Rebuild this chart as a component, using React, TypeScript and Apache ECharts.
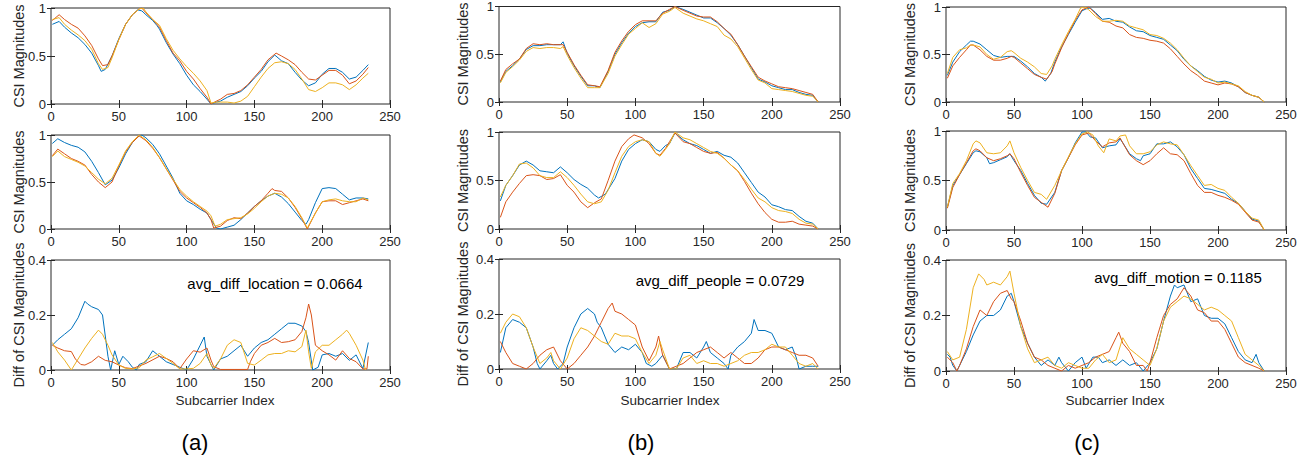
import React, { useEffect, useRef } from "react";
import * as echarts from "echarts";

// ---------- DATA: [subcarrier index, value] ----------
const a1Blue = [[1,.83],[6,.86],[10,.8],[15,.74],[20,.69],[25,.62],[30,.53],[35,.4],[37,.34],[40,.36],[45,.5],[50,.68],[55,.83],[60,.93],[64,.98],[67,.97],[70,.93],[75,.87],[78,.82],[80,.78],[85,.64],[90,.52],[95,.42],[100,.3],[105,.2],[110,.13],[115,.05],[118,0],[122,.02],[125,.03],[130,.07],[135,.1],[140,.13],[145,.19],[150,.27],[155,.34],[160,.44],[165,.51],[170,.45],[175,.42],[180,.33],[185,.25],[190,.19],[195,.22],[200,.31],[205,.37],[210,.37],[215,.33],[220,.26],[225,.28],[230,.35],[234,.41]];
const a1Red = [[1,.87],[6,.93],[10,.88],[15,.83],[20,.79],[25,.71],[30,.61],[35,.47],[38,.4],[42,.41],[45,.5],[50,.67],[55,.83],[60,.93],[65,.99],[67,1],[70,.95],[75,.88],[80,.8],[85,.66],[90,.53],[95,.45],[100,.34],[105,.26],[110,.16],[115,.07],[118,0],[122,.03],[125,.05],[130,.1],[135,.11],[140,.14],[145,.2],[150,.28],[155,.36],[160,.46],[166,.53],[170,.5],[175,.46],[180,.41],[185,.33],[190,.26],[195,.25],[200,.3],[205,.35],[210,.35],[215,.3],[220,.21],[225,.24],[230,.31],[234,.38]];
const a1Yellow = [[1,.88],[6,.9],[10,.83],[15,.77],[20,.72],[25,.66],[30,.57],[35,.42],[38,.36],[42,.38],[45,.48],[50,.67],[55,.83],[60,.93],[65,.99],[68,1],[70,.96],[75,.88],[80,.82],[85,.68],[90,.56],[95,.47],[100,.39],[105,.32],[110,.24],[115,.14],[118,.01],[122,.02],[125,.02],[130,.02],[135,.01],[140,.03],[145,.08],[150,.18],[155,.28],[160,.37],[165,.43],[170,.44],[175,.42],[180,.36],[185,.26],[190,.15],[195,.13],[200,.17],[205,.22],[210,.22],[215,.2],[220,.15],[225,.2],[230,.27],[234,.32]];

const a2Blue = [[1,.91],[5,.96],[10,.92],[15,.89],[20,.87],[25,.82],[30,.72],[35,.6],[40,.47],[45,.52],[50,.65],[55,.8],[60,.92],[65,.99],[67,1],[70,.97],[75,.9],[80,.8],[85,.67],[90,.54],[95,.38],[100,.3],[105,.26],[110,.21],[115,.17],[118,.1],[122,.01],[125,0],[130,.02],[135,.04],[140,.1],[145,.17],[150,.24],[155,.3],[160,.35],[165,.38],[170,.34],[175,.27],[180,.18],[185,.09],[188,.05],[190,.1],[195,.28],[200,.43],[205,.44],[210,.43],[215,.37],[220,.31],[225,.33],[230,.33],[234,.32]];
const a2Red = [[1,.78],[5,.85],[10,.8],[15,.75],[20,.72],[25,.68],[30,.58],[35,.5],[40,.44],[45,.5],[50,.67],[55,.82],[60,.92],[65,.99],[70,.94],[75,.86],[80,.76],[85,.64],[90,.52],[95,.4],[100,.33],[105,.28],[110,.23],[115,.17],[118,.1],[120,.01],[125,.03],[130,.09],[135,.12],[140,.11],[145,.17],[150,.24],[155,.3],[160,.38],[163,.43],[165,.41],[170,.4],[175,.33],[180,.23],[185,.11],[189,0],[195,.17],[200,.29],[205,.3],[210,.3],[215,.26],[220,.28],[225,.3],[230,.32],[234,.3]];
const a2Yellow = [[1,.77],[5,.83],[10,.77],[15,.74],[20,.71],[25,.67],[30,.6],[35,.53],[40,.48],[45,.54],[50,.68],[55,.83],[60,.93],[65,1],[70,.95],[75,.87],[80,.76],[85,.64],[90,.53],[95,.42],[100,.35],[105,.29],[110,.24],[115,.19],[118,.14],[121,.03],[125,.05],[130,.1],[135,.11],[140,.12],[145,.16],[150,.22],[155,.29],[160,.35],[165,.38],[170,.37],[175,.33],[180,.24],[185,.12],[189,.01],[195,.17],[200,.29],[205,.31],[210,.32],[215,.3],[220,.29],[225,.29],[230,.33],[234,.31]];

const a3Blue = [[1,.09],[5,.11],[10,.13],[15,.15],[20,.19],[25,.25],[27,.24],[30,.23],[35,.22],[38,.2],[42,.05],[44,0],[47,.07],[50,.02],[53,.05],[57,.03],[60,.01],[63,0],[65,.02],[70,.03],[75,.07],[80,.05],[85,.03],[90,.02],[95,.01],[100,0],[105,.04],[110,.09],[113,.12],[115,.05],[118,.02],[120,0],[125,.04],[130,.05],[135,.07],[140,.09],[145,.05],[150,.08],[155,.1],[160,.11],[165,.13],[170,.15],[175,.17],[180,.17],[185,.16],[188,.14],[190,.1],[193,0],[197,.01],[200,.055],[205,.06],[210,.05],[215,.06],[220,.035],[225,.055],[230,.005],[234,.1]];
const a3Red = [[1,.09],[5,.08],[10,.07],[15,.067],[18,.04],[22,.02],[25,.018],[30,.03],[35,.05],[40,.035],[45,.03],[50,.018],[55,.008],[60,.005],[70,.024],[80,.05],[85,.042],[90,.03],[95,.005],[100,.04],[105,.07],[110,.065],[115,.08],[118,.036],[120,.012],[125,.002],[135,.002],[145,.002],[147,.03],[150,.06],[155,.09],[160,.1],[165,.115],[170,.1],[175,.103],[180,.11],[185,.14],[188,.19],[190,.24],[192,.2],[195,.09],[200,.07],[205,.055],[210,.036],[215,.07],[220,.042],[225,.03],[230,.004],[233,.004],[234,.05]];
const a3Yellow = [[1,.1],[5,.066],[10,.036],[15,0],[20,.04],[25,.08],[30,.115],[35,.145],[38,.13],[42,.09],[45,.055],[50,.018],[55,.006],[60,.004],[65,.008],[70,.036],[75,.048],[80,.06],[85,.042],[90,.024],[95,.004],[100,.004],[105,.006],[110,.024],[115,.06],[118,.018],[120,.006],[125,.04],[130,.09],[135,.11],[140,.1],[145,.024],[150,.018],[155,.036],[160,.055],[165,.06],[170,.06],[175,.07],[180,.066],[185,.085],[188,.145],[190,.066],[192,.006],[195,.066],[200,.09],[205,.09],[210,.11],[215,.13],[218,.145],[220,.133],[225,.09],[230,.036],[232,0]];

const b1Blue = [[1,.21],[5,.32],[10,.38],[15,.45],[20,.55],[25,.59],[30,.59],[35,.6],[40,.6],[45,.6],[47,.63],[50,.51],[55,.38],[60,.27],[65,.17],[70,.17],[74,.15],[80,.32],[85,.5],[90,.62],[95,.72],[100,.79],[105,.83],[110,.84],[115,.84],[120,.94],[125,.96],[129,1],[135,.97],[140,.94],[145,.91],[150,.88],[155,.88],[160,.83],[165,.77],[170,.7],[175,.6],[180,.48],[185,.36],[190,.24],[195,.21],[200,.17],[205,.15],[210,.13],[215,.13],[220,.1],[225,.08],[230,.07],[234,0]];
const b1Red = [[1,.22],[5,.34],[10,.4],[15,.45],[20,.56],[25,.61],[30,.6],[35,.61],[40,.6],[45,.6],[47,.6],[50,.52],[55,.39],[60,.28],[65,.18],[70,.17],[74,.16],[80,.33],[85,.52],[90,.64],[95,.74],[100,.81],[105,.85],[110,.85],[115,.85],[120,.93],[125,.97],[129,1],[135,.96],[140,.93],[145,.9],[150,.89],[155,.89],[160,.84],[165,.77],[170,.71],[175,.6],[180,.48],[185,.37],[190,.26],[195,.22],[200,.19],[205,.16],[210,.15],[215,.14],[220,.12],[225,.1],[230,.08],[234,0]];
const b1Yellow = [[1,.2],[5,.31],[10,.37],[15,.44],[20,.53],[25,.57],[30,.56],[35,.57],[40,.57],[45,.56],[47,.58],[50,.49],[55,.36],[60,.25],[65,.15],[70,.15],[74,.15],[80,.3],[85,.48],[90,.6],[95,.71],[100,.77],[105,.83],[110,.78],[115,.82],[120,.92],[125,.95],[129,.99],[135,.93],[140,.9],[145,.87],[150,.85],[155,.82],[160,.79],[165,.7],[170,.66],[175,.58],[180,.46],[185,.34],[190,.23],[195,.2],[200,.14],[205,.13],[210,.12],[215,.11],[220,.09],[225,.07],[230,.06],[234,0]];

const b2Blue = [[1,.29],[5,.45],[10,.55],[15,.66],[20,.7],[25,.66],[30,.6],[35,.59],[40,.58],[45,.64],[50,.58],[55,.51],[60,.46],[65,.42],[70,.35],[73,.32],[78,.36],[85,.52],[90,.7],[95,.82],[100,.88],[105,.92],[110,.9],[115,.82],[118,.8],[122,.86],[125,.88],[129,.99],[135,.92],[140,.88],[145,.86],[150,.82],[155,.78],[160,.8],[165,.76],[170,.74],[175,.68],[180,.58],[185,.48],[190,.38],[195,.33],[200,.25],[205,.23],[210,.2],[215,.19],[220,.13],[225,.08],[230,.06],[234,0]];
const b2Red = [[1,.12],[5,.28],[10,.38],[15,.47],[20,.55],[25,.56],[30,.55],[35,.51],[40,.52],[45,.56],[50,.45],[55,.38],[60,.28],[65,.22],[70,.27],[75,.31],[80,.5],[85,.7],[90,.85],[95,.93],[99,.97],[105,.94],[110,.88],[115,.78],[118,.76],[122,.83],[125,.9],[129,.99],[135,.9],[140,.88],[145,.84],[150,.8],[155,.78],[160,.79],[165,.73],[170,.66],[175,.6],[180,.49],[185,.37],[190,.26],[195,.17],[200,.1],[205,.07],[210,.07],[215,.08],[220,.05],[225,.04],[230,.03],[234,0]];
const b2Yellow = [[1,.33],[5,.45],[10,.55],[15,.67],[20,.68],[25,.63],[30,.55],[35,.53],[40,.53],[45,.59],[50,.53],[55,.45],[60,.36],[65,.28],[70,.26],[75,.28],[80,.4],[85,.58],[90,.75],[95,.85],[100,.9],[105,.92],[110,.9],[115,.78],[118,.75],[122,.82],[125,.88],[129,1],[135,.94],[140,.92],[145,.88],[150,.84],[155,.8],[160,.78],[165,.73],[170,.66],[175,.6],[180,.51],[185,.41],[190,.32],[195,.28],[200,.22],[205,.19],[210,.18],[215,.16],[220,.1],[225,.06],[230,.05],[234,0]];

const b3Blue = [[1,.06],[5,.15],[10,.18],[15,.17],[20,.15],[25,.08],[28,.02],[30,0],[35,.03],[38,.05],[40,.02],[43,0],[47,.02],[50,.08],[55,.15],[60,.2],[65,.22],[70,.2],[72,.17],[75,.15],[80,.09],[85,.06],[90,.08],[95,.07],[100,.09],[105,.06],[108,.02],[112,.01],[115,.02],[120,.05],[125,0],[130,0],[135,.06],[140,.06],[145,.04],[150,.08],[152,.1],[155,.06],[160,.04],[165,.02],[168,0],[170,.05],[175,.08],[180,.1],[185,.13],[187,.18],[190,.14],[195,.14],[200,.13],[205,.08],[210,.07],[215,.08],[218,.04],[220,0],[225,.01],[230,.01],[234,.01]];
const b3Red = [[1,.1],[5,.06],[10,.02],[15,.01],[20,0],[25,.02],[30,.05],[35,.07],[40,.08],[45,.03],[50,0],[55,.02],[60,.05],[65,.08],[70,.12],[75,.17],[80,.22],[83,.24],[85,.21],[90,.2],[95,.18],[100,.16],[105,.08],[110,.03],[115,.08],[117,.12],[120,.05],[125,0],[130,.01],[135,.02],[140,.04],[145,.06],[150,.07],[155,.08],[160,.06],[165,.04],[170,.06],[175,.04],[180,.02],[185,.02],[190,.04],[195,.07],[200,.08],[205,.08],[210,.07],[215,.06],[220,.05],[225,.05],[230,.04],[234,.01]];
const b3Yellow = [[1,.13],[5,.17],[10,.2],[15,.19],[20,.15],[25,.08],[30,.02],[35,.04],[38,.06],[40,.03],[45,0],[50,.04],[55,.11],[60,.15],[65,.14],[70,.12],[75,.1],[80,.09],[85,.13],[90,.12],[95,.12],[100,.11],[105,.06],[110,.02],[115,.05],[118,.1],[120,.07],[125,0],[130,0],[135,.04],[140,.05],[145,.02],[150,.03],[155,.02],[160,.02],[165,.01],[170,.02],[175,.03],[180,.05],[185,.06],[190,.06],[195,.07],[200,.09],[205,.08],[210,.08],[215,.05],[220,.02],[225,.01],[230,.02],[234,0]];

const c1Blue = [[1,.28],[5,.42],[10,.53],[15,.6],[18,.64],[20,.64],[25,.61],[30,.55],[35,.49],[40,.47],[45,.48],[50,.48],[55,.43],[60,.37],[65,.3],[70,.26],[73,.22],[77,.3],[80,.42],[85,.58],[90,.71],[95,.84],[100,.96],[103,.98],[106,.99],[110,.94],[115,.87],[120,.88],[125,.85],[130,.84],[135,.79],[140,.75],[145,.74],[150,.7],[155,.68],[160,.66],[165,.6],[170,.54],[175,.45],[180,.38],[185,.33],[190,.27],[195,.23],[200,.21],[205,.22],[210,.2],[215,.16],[220,.1],[225,.07],[230,.05],[234,0]];
const c1Red = [[1,.25],[5,.38],[10,.47],[15,.55],[18,.6],[20,.6],[25,.55],[30,.48],[35,.44],[40,.44],[45,.46],[48,.48],[50,.47],[55,.41],[60,.35],[65,.29],[70,.26],[74,.24],[78,.32],[80,.4],[85,.57],[90,.72],[95,.86],[100,.97],[105,1],[110,.93],[115,.85],[120,.84],[125,.8],[130,.78],[135,.71],[140,.68],[145,.67],[150,.65],[155,.64],[160,.62],[165,.56],[170,.48],[175,.4],[180,.33],[185,.28],[190,.22],[195,.2],[200,.18],[205,.2],[210,.19],[215,.16],[220,.1],[225,.07],[230,.05],[234,0]];
const c1Yellow = [[1,.3],[5,.47],[10,.55],[15,.57],[18,.6],[20,.6],[25,.58],[30,.5],[35,.45],[40,.47],[45,.53],[48,.54],[50,.52],[55,.46],[60,.42],[65,.37],[70,.3],[74,.29],[78,.38],[80,.45],[85,.6],[90,.74],[95,.87],[99,.99],[102,1],[105,.97],[110,.9],[115,.85],[120,.85],[125,.86],[130,.85],[135,.8],[140,.78],[145,.76],[150,.71],[155,.7],[160,.67],[165,.62],[170,.55],[175,.46],[180,.38],[185,.32],[190,.26],[195,.24],[200,.2],[205,.21],[210,.19],[215,.17],[220,.11],[225,.07],[230,.05],[234,0]];

const c2Blue = [[1,.23],[5,.45],[10,.56],[15,.67],[20,.78],[22,.8],[25,.79],[30,.73],[32,.67],[35,.68],[40,.71],[45,.74],[47,.77],[50,.7],[55,.6],[60,.47],[65,.35],[70,.27],[74,.26],[80,.38],[85,.6],[90,.73],[95,.88],[100,.99],[103,.99],[106,.94],[110,.93],[115,.83],[120,.85],[125,.86],[128,.92],[130,.88],[135,.77],[140,.72],[143,.7],[145,.75],[150,.77],[155,.87],[160,.87],[165,.89],[170,.84],[175,.76],[180,.62],[185,.52],[190,.42],[195,.41],[200,.39],[205,.37],[210,.31],[215,.27],[220,.19],[225,.11],[230,.09],[234,0]];
const c2Red = [[1,.22],[5,.43],[10,.56],[15,.68],[20,.8],[22,.82],[25,.8],[30,.73],[35,.7],[40,.72],[45,.75],[47,.77],[50,.72],[55,.58],[60,.45],[65,.33],[70,.28],[75,.23],[80,.37],[85,.6],[90,.73],[95,.86],[100,.96],[105,.98],[110,.9],[115,.84],[120,.88],[125,.89],[128,.93],[130,.88],[135,.76],[140,.7],[145,.66],[150,.7],[155,.77],[160,.83],[165,.77],[170,.76],[175,.7],[180,.57],[185,.45],[190,.38],[195,.38],[200,.35],[205,.33],[210,.3],[215,.26],[220,.18],[225,.1],[230,.08],[234,0]];
const c2Yellow = [[1,.23],[5,.47],[10,.57],[15,.7],[20,.87],[22,.9],[25,.88],[30,.78],[35,.77],[40,.78],[45,.85],[47,.9],[50,.78],[55,.63],[60,.5],[65,.38],[70,.36],[74,.31],[80,.45],[85,.6],[90,.74],[95,.87],[100,.97],[104,.99],[108,.96],[112,.85],[116,.78],[120,.92],[125,.9],[128,.95],[132,.96],[135,.85],[140,.77],[145,.77],[150,.79],[155,.86],[160,.89],[165,.87],[170,.86],[175,.76],[180,.65],[185,.55],[190,.45],[195,.46],[200,.42],[205,.4],[210,.33],[215,.27],[220,.19],[225,.12],[230,.1],[234,0]];

const c3Blue = [[1,.06],[3,.05],[5,.02],[8,0],[10,.02],[15,.07],[20,.13],[25,.18],[30,.2],[35,.2],[40,.22],[45,.27],[48,.28],[50,.25],[55,.16],[60,.1],[65,.05],[70,.02],[75,.04],[80,.02],[83,.05],[85,.03],[90,0],[95,.03],[100,.05],[103,.01],[108,.05],[112,.05],[115,.03],[120,.04],[125,.02],[130,.04],[135,.02],[140,.03],[145,0],[150,.03],[155,.08],[160,.18],[165,.27],[168,.31],[170,.3],[175,.31],[180,.25],[185,.26],[190,.2],[195,.19],[200,.19],[205,.17],[210,.12],[215,.07],[220,.04],[225,.03],[228,.06],[230,.03],[234,0]];
const c3Red = [[1,.05],[5,.03],[8,0],[10,.02],[15,.08],[20,.16],[25,.22],[30,.2],[35,.25],[40,.28],[45,.29],[48,.26],[50,.25],[55,.18],[60,.1],[65,.05],[70,.04],[75,.02],[80,.01],[85,0],[90,.02],[95,.01],[100,.02],[105,.03],[110,.05],[115,.06],[120,.07],[125,.12],[127,.14],[130,.1],[135,.07],[140,.02],[145,.02],[148,0],[150,.03],[155,.12],[160,.2],[165,.24],[170,.26],[175,.3],[180,.27],[185,.22],[190,.21],[195,.18],[200,.18],[205,.15],[210,.1],[215,.05],[220,.03],[225,.02],[230,.01],[234,0]];
const c3Yellow = [[1,.07],[5,.04],[10,.05],[15,.15],[20,.3],[24,.35],[28,.33],[30,.31],[35,.32],[40,.31],[45,.34],[47,.36],[50,.28],[55,.16],[60,.08],[65,.03],[70,.04],[75,.05],[80,.02],[85,.01],[90,.03],[95,.02],[100,.01],[105,.01],[110,.04],[115,.06],[120,.03],[125,.04],[130,.12],[135,.08],[140,.06],[145,.04],[150,.02],[155,.08],[160,.18],[165,.23],[170,.25],[175,.27],[180,.26],[185,.24],[190,.22],[195,.23],[200,.22],[205,.2],[210,.18],[215,.12],[220,.06],[225,.04],[230,.02],[234,0]];

const xTicks = { min: 0, max: 250, step: 50 };
const magTicks = { min: 0, max: 1, step: 0.5 };
const diffTicks = { min: 0, max: 0.4, step: 0.2 };
const annotations = ["avg_diff_location = 0.0664", "avg_diff_people = 0.0729", "avg_diff_motion = 0.1185"];
const panelLabels = ["(a)", "(b)", "(c)"];
const yNames = ["CSI Magnitudes", "CSI Magnitudes", "Diff of CSI Magnitudes"];
const xName = "Subcarrier Index";

const panelData = [
  [a1Blue, a1Red, a1Yellow], [a2Blue, a2Red, a2Yellow], [a3Blue, a3Red, a3Yellow],
  [b1Blue, b1Red, b1Yellow], [b2Blue, b2Red, b2Yellow], [b3Blue, b3Red, b3Yellow],
  [c1Blue, c1Red, c1Yellow], [c2Blue, c2Red, c2Yellow], [c3Blue, c3Red, c3Yellow],
];

// ---------- LAYOUT ----------
const COLORS = ["#0072BD", "#D95319", "#EDB120"];
const AX = "#262626";
const FONT = "'Liberation Sans', Arial, Helvetica, sans-serif";
const colLeft = [51, 499, 946];
const colWidth = [339, 341, 340];
const rowBoxes = [
  [[8, 96], [135, 94], [260, 110]],
  [[6, 96], [132, 97], [259, 110]],
  [[7, 95], [131, 99], [260, 111]],
];
const yNameX = [18.5, 463, 910];
const xNameX = [225, 670, 1115];
const panelLabelX = [195, 641, 1087];
const annX = [275, 720, 1178];
const annY = [283, 280, 277];

export default function App() {
  const ref = useRef<HTMLDivElement>(null);
  useEffect(() => {
    if (!ref.current) return;
    const chart = echarts.init(ref.current, null, { renderer: "svg" });
    const grids: any[] = [];
    const xAxes: any[] = [];
    const yAxes: any[] = [];
    const series: any[] = [];
    const graphics: any[] = [];
    const tickStyle = { show: true, inside: true, length: 4, lineStyle: { color: AX, width: 1 } };
    let gi = 0;
    for (let c = 0; c < 3; c++) {
      for (let r = 0; r < 3; r++) {
        const [top, height] = rowBoxes[c][r];
        grids.push({
          left: colLeft[c], top, width: colWidth[c], height,
          show: true, borderColor: AX, borderWidth: 1, backgroundColor: "transparent",
        });
        const yt = r === 2 ? diffTicks : magTicks;
        for (const pos of ["bottom", "top"]) {
          xAxes.push({
            type: "value", gridIndex: gi, position: pos,
            min: xTicks.min, max: xTicks.max, interval: xTicks.step,
            axisLine: { show: false }, splitLine: { show: false },
            axisTick: tickStyle,
            axisLabel: { show: pos === "bottom", color: AX, fontSize: 13, fontFamily: FONT, margin: 6 },
          });
        }
        for (const pos of ["left", "right"]) {
          yAxes.push({
            type: "value", gridIndex: gi, position: pos,
            min: yt.min, max: yt.max, interval: yt.step,
            axisLine: { show: false }, splitLine: { show: false },
            axisTick: tickStyle,
            axisLabel: {
              show: pos === "left", color: AX, fontSize: 13, fontFamily: FONT, margin: 5,
              formatter: (v: number) => String(Math.round(v * 10) / 10),
            },
          });
        }
        panelData[gi].forEach((d, k) => {
          series.push({
            type: "line", xAxisIndex: gi * 2, yAxisIndex: gi * 2, data: d,
            showSymbol: false, symbol: "none", smooth: false,
            lineStyle: { color: COLORS[k], width: 1 }, itemStyle: { color: COLORS[k] },
          });
        });
        graphics.push({
          type: "text", x: yNameX[c], y: top + height / 2, rotation: Math.PI / 2,
          style: { text: yNames[r], fill: AX, font: `14.5px ${FONT}`, textAlign: "center", textVerticalAlign: "middle" },
        });
        gi++;
      }
      graphics.push({
        type: "text", x: annX[c], y: annY[c],
        style: { text: annotations[c], fill: "#000", font: `15px ${FONT}`, textAlign: "center", textVerticalAlign: "middle" },
      });
      graphics.push({
        type: "text", x: xNameX[c], y: 400,
        style: { text: xName, fill: AX, font: `13.5px ${FONT}`, textAlign: "center", textVerticalAlign: "middle" },
      });
      graphics.push({
        type: "text", x: panelLabelX[c], y: 442,
        style: { text: panelLabels[c], fill: "#000", font: `22px ${FONT}`, textAlign: "center", textVerticalAlign: "middle" },
      });
    }
    chart.setOption({
      animation: false,
      backgroundColor: "#ffffff",
      grid: grids, xAxis: xAxes, yAxis: yAxes, series, graphic: graphics,
    });
    return () => chart.dispose();
  }, []);
  return <div ref={ref} style={{ position: "absolute", left: 0, top: 0, width: 1310, height: 462 }} />;
}
